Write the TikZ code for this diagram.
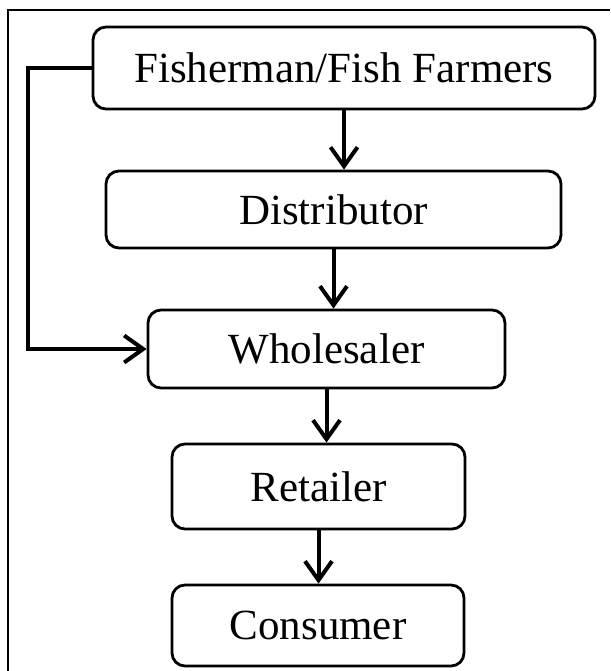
\documentclass[tikz,border=0pt]{standalone}
\usepackage{fontspec}
\setmainfont{Liberation Serif}
\usetikzlibrary{arrows.meta,positioning}

\begin{document}
\begin{tikzpicture}[x=1pt,y=-1pt,
  stage/.style={draw,line width=2.8pt,rounded corners=13pt,inner sep=0pt,
    font=\fontsize{43}{50}\selectfont},
  flow/.style={line width=4pt,-{Straight Barb[length=19pt,width=27pt]}}]
\useasboundingbox (0,0) rectangle (610,671);
\draw [line width=1.2pt] (8,671) -- (8,10) -- (610,10);

\node [stage,minimum width=502pt,minimum height=82pt] (fish)   at (344,68)    {Fisherman/Fish Farmers};
\node [stage,minimum width=455pt,minimum height=77pt] (dist)   at (333.5,209.5) {Distributor};
\node [stage,minimum width=357pt,minimum height=78pt] (whole)  at (326.5,349) {Wholesaler};
\node [stage,minimum width=293pt,minimum height=85pt] (retail) at (318.5,486.5) {Retailer};
\node [stage,minimum width=292pt,minimum height=81pt] (cons)   at (318,625.5) {Consumer};

\draw [flow] (fish.south) -- (fish.south |- dist.north);
\draw [flow] (dist.south) -- (dist.south |- whole.north);
\draw [flow] (whole.south) -- (whole.south |- retail.north);
\draw [flow] (retail.south) -- (retail.south |- cons.north);
\draw [flow] (fish.west) -- ++(-64,0) |- (whole.west);
\end{tikzpicture}
\end{document}
